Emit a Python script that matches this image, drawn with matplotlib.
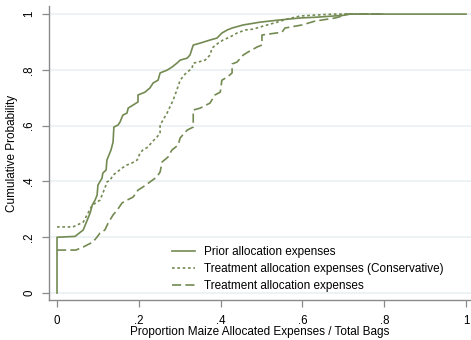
import matplotlib
matplotlib.use("Agg")
import matplotlib.pyplot as plt

plt.rcParams['font.family'] = ['Liberation Sans', 'DejaVu Sans']

# Empirical CDF knots: share of maize allocated to expenses / total bags
prior_x = [0.0, 0.0, 0.044, 0.064, 0.081, 0.086, 0.093, 0.098, 0.100, 0.110, 0.112,
           0.120, 0.122, 0.132, 0.137, 0.139, 0.149, 0.154, 0.161, 0.171, 0.174,
           0.186, 0.198, 0.198, 0.215, 0.227, 0.235, 0.247, 0.252, 0.269, 0.281,
           0.293, 0.301, 0.318, 0.325, 0.333, 0.350, 0.374, 0.391, 0.403, 0.416,
           0.428, 0.455, 0.496, 0.538, 0.594, 0.636, 0.704, 0.704, 1.0]
prior_y = [0.0, 0.200, 0.203, 0.226, 0.287, 0.315, 0.333, 0.351, 0.387, 0.412, 0.430,
           0.441, 0.477, 0.513, 0.541, 0.595, 0.602, 0.613, 0.638, 0.645, 0.663,
           0.674, 0.685, 0.710, 0.720, 0.735, 0.753, 0.763, 0.789, 0.799, 0.810,
           0.824, 0.835, 0.842, 0.853, 0.889, 0.896, 0.907, 0.914, 0.932, 0.943,
           0.950, 0.961, 0.971, 0.978, 0.986, 0.989, 0.996, 1.0, 1.0]

cons_x = [0.0, 0.039, 0.064, 0.076, 0.086, 0.105, 0.112, 0.117, 0.122, 0.130, 0.137,
          0.147, 0.159, 0.171, 0.183, 0.196, 0.203, 0.210, 0.222, 0.232, 0.244,
          0.252, 0.252, 0.259, 0.269, 0.276, 0.284, 0.293, 0.301, 0.313, 0.330,
          0.333, 0.345, 0.362, 0.374, 0.379, 0.394, 0.406, 0.423, 0.440, 0.460,
          0.479, 0.504, 0.538, 0.562, 0.594, 0.626, 0.675, 0.797]
cons_y = [0.237, 0.237, 0.254, 0.287, 0.315, 0.333, 0.358, 0.376, 0.398, 0.405, 0.423,
          0.434, 0.448, 0.459, 0.466, 0.477, 0.502, 0.513, 0.523, 0.541, 0.559,
          0.573, 0.602, 0.620, 0.645, 0.667, 0.692, 0.728, 0.763, 0.785, 0.806,
          0.824, 0.828, 0.835, 0.853, 0.878, 0.896, 0.907, 0.918, 0.932, 0.943,
          0.946, 0.957, 0.971, 0.982, 0.993, 0.996, 1.0, 1.0]

treat_x = [0.0, 0.046, 0.064, 0.088, 0.098, 0.105, 0.117, 0.125, 0.137, 0.147, 0.159,
           0.171, 0.186, 0.198, 0.210, 0.227, 0.244, 0.252, 0.257, 0.271, 0.281,
           0.296, 0.301, 0.318, 0.333, 0.333, 0.350, 0.374, 0.386, 0.399, 0.403,
           0.416, 0.428, 0.428, 0.440, 0.455, 0.467, 0.489, 0.501, 0.501, 0.550,
           0.557, 0.599, 0.631, 0.680, 0.704, 0.716, 0.797]
treat_y = [0.154, 0.154, 0.165, 0.183, 0.201, 0.215, 0.226, 0.251, 0.280, 0.297, 0.323,
           0.333, 0.344, 0.369, 0.380, 0.398, 0.416, 0.434, 0.470, 0.487, 0.513,
           0.530, 0.556, 0.584, 0.595, 0.656, 0.663, 0.681, 0.710, 0.720, 0.763,
           0.774, 0.789, 0.821, 0.828, 0.853, 0.864, 0.882, 0.889, 0.925, 0.935,
           0.950, 0.961, 0.975, 0.986, 0.996, 1.0, 1.0]

series_labels = ["Prior allocation expenses",
                 "Treatment allocation expenses (Conservative)",
                 "Treatment allocation expenses"]
x_ticks = [0, 0.2, 0.4, 0.6, 0.8, 1.0]
x_tick_labels = ["0", ".2", ".4", ".6", ".8", "1"]
y_ticks = [0, 0.2, 0.4, 0.6, 0.8, 1.0]
y_tick_labels = ["0", ".2", ".4", ".6", ".8", "1"]

line_color = "#738a52"
spine_color = "#8a8a8a"
grid_color = "#eaf1f2"

fig = plt.figure(figsize=(4.71, 3.40), dpi=100)
ax = fig.add_axes([49 / 471, 1 - 300 / 340, 422 / 471, 294 / 340])

for y in y_ticks:
    ax.axhline(y, color=grid_color, lw=1.2, zorder=0)

ax.plot(prior_x, prior_y, color=line_color, lw=1.2, ls='-', label=series_labels[0])
ax.plot(cons_x, cons_y, color=line_color, lw=1.2, ls=(0, (1.6, 1.6)), label=series_labels[1])
ax.plot(treat_x, treat_y, color=line_color, lw=1.2, ls=(0, (5.5, 2.5)), label=series_labels[2])

ax.set_xlim(-0.0196, 1.012)
ax.set_ylim(-0.025, 1.029)

ax.set_xticks(x_ticks)
ax.set_xticklabels(x_tick_labels)
ax.set_yticks(y_ticks)
ax.set_yticklabels(y_tick_labels, rotation=90, va='center')

ax.tick_params(axis='both', direction='out', length=5, width=0.9, color=spine_color,
               labelsize=8.3, labelcolor='black')
ax.tick_params(axis='y', pad=5)
ax.tick_params(axis='x', pad=6)

for side in ['top', 'right']:
    ax.spines[side].set_visible(False)
for side in ['left', 'bottom']:
    ax.spines[side].set_color(spine_color)
    ax.spines[side].set_linewidth(1.0)

ax.set_xlabel("Proportion Maize Allocated Expenses / Total Bags", fontsize=8.5)
ax.xaxis.set_label_coords(0.5, -0.088)
ax.set_ylabel("Cumulative Probability", fontsize=8.5, labelpad=4)

leg = ax.legend(loc='lower left', bbox_to_anchor=(0.28, 0.012), borderaxespad=0,
                frameon=False, fontsize=8.5, handlelength=1.95, handletextpad=0.76,
                labelspacing=0.42)

fig.savefig("out.png", dpi=100)
